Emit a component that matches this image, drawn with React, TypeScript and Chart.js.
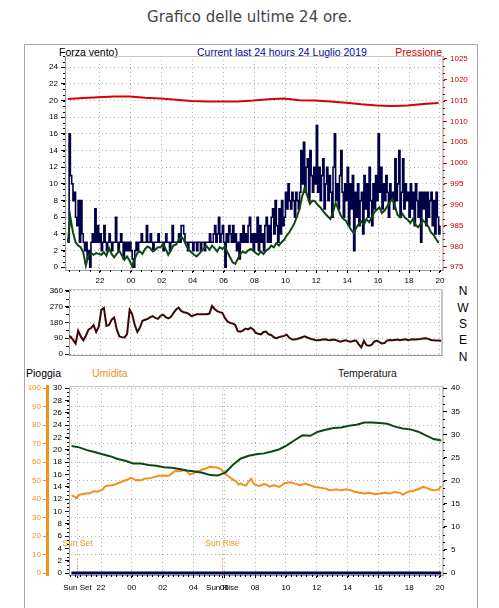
import React, { useEffect, useRef } from 'react';
import { Chart, registerables } from 'chart.js';

Chart.register(...registerables);

const FONT = "'Liberation Sans', Arial, sans-serif";
Chart.defaults.font.family = FONT;
Chart.defaults.color = '#000';

// ---- time axis: hours counted from 19:00 of the previous day (3 = 22:00, 25 = 20:00)
const hourTicks = [3, 5, 7, 9, 11, 13, 15, 17, 19, 21, 23, 25];
const hourLabels = ['22', '00', '02', '04', '06', '08', '10', '12', '14', '16', '18', '20'];
const sunSet = 1.47; // 20:28
const sunRise = 10.87; // 05:52

// ---- wind (start 19:55)
const windStart = 0.9167;
const windTicks = [0, 2, 4, 6, 8, 10, 12, 14, 16, 18, 20, 22, 24];
const pressureTicks = [975, 980, 985, 990, 995, 1000, 1005, 1010, 1015, 1020, 1025];

// gust, every 5 minutes
const windGust = [
  3, 16, 11, 10, 8, 9, 6, 5, 8, 3, 8, 4,
  3, 2, 3, 1, 2, 0, 3, 4, 3, 7, 3, 5,
  3, 4, 2, 3, 5, 3, 2, 3, 4, 3, 2, 3,
  3, 6, 3, 2, 3, 4, 3, 1, 3, 2, 3, 2,
  3, 2, 1, 0, 2, 3, 2, 3, 3, 4, 3, 3,
  3, 5, 3, 3, 4, 3, 2, 3, 3, 3, 4, 3,
  3, 3, 2, 3, 4, 3, 3, 2, 3, 5, 3, 3,
  3, 3, 4, 3, 5, 5, 4, 3, 3, 2, 3, 3,
  3, 2, 3, 3, 2, 3, 3, 2, 3, 3, 2, 3,
  3, 3, 4, 3, 3, 4, 5, 3, 4, 6, 3, 4,
  5, 3, 0, 4, 3, 5, 4, 3, 5, 3, 4, 2,
  3, 1, 4, 3, 5, 3, 4, 3, 5, 6, 3, 4,
  2, 4, 3, 6, 2, 5, 3, 4, 2, 5, 6, 3,
  5, 3, 6, 7, 4, 8, 5, 3, 7, 4, 8, 5,
  6, 9, 7, 10, 8, 7, 9, 8, 6, 9, 8, 7,
  9, 14, 10, 15, 9, 12, 13, 8, 14, 11, 9, 12,
  10, 17, 9, 12, 8, 11, 13, 7, 10, 12, 8, 11,
  9, 6, 12, 16, 8, 10, 7, 11, 14, 9, 6, 10,
  8, 12, 5, 10, 7, 11, 2, 9, 6, 10, 5, 8,
  9, 4, 11, 7, 10, 6, 12, 8, 5, 10, 7, 11,
  8, 16, 9, 12, 7, 10, 8, 11, 9, 6, 10, 8,
  9, 7, 13, 8, 10, 14, 6, 9, 13, 7, 10, 8,
  9, 6, 10, 7, 9, 5, 10, 8, 6, 9, 3, 9,
  7, 9, 5, 9, 6, 8, 9, 5, 8, 4, 9, 6,
  4, 5,
];

// average wind, every 10 minutes
const windAvg = [
  3.0, 6.0, 4.2, 3.0, 2.6, 2.4,
  1.8, 0.2, 1.4, 1.7, 1.5, 1.7,
  1.6, 1.5, 1.8, 1.4, 2.3, 1.6,
  1.2, 1.6, 2.0, 1.4, 0.9, 1.3,
  0.8, 0.1, 1.0, 1.7, 1.9, 1.6,
  2.2, 2.5, 2.3, 1.9, 2.1, 2.4,
  2.4, 2.8, 2.2, 1.5, 2.0, 2.6,
  2.7, 3.2, 3.7, 3.3, 2.6, 2.1,
  1.8, 1.5, 1.3, 1.6, 2.0, 2.3,
  2.5, 2.1, 2.6, 2.3, 1.9, 2.4,
  2.2, 2.5, 1.8, 1.2, 0.6, 0.4,
  1.0, 1.6, 1.9, 1.7, 2.0, 2.2,
  2.0, 1.7, 1.5, 1.9, 1.6, 2.0,
  2.2, 2.6, 2.4, 2.9, 2.6, 3.0,
  3.3, 3.8, 4.2, 4.7, 5.3, 6.1,
  7.0, 8.5, 9.5, 8.6, 7.6, 8.0,
  7.9, 7.5, 7.2, 6.8, 6.4, 6.1,
  5.8, 6.6, 7.7, 7.0, 6.2, 5.8,
  5.6, 5.0, 4.5, 4.1, 4.7, 5.2,
  5.5, 5.1, 5.8, 5.4, 6.0, 6.6,
  6.9, 7.2, 6.5, 6.8, 7.3, 7.8,
  8.2, 7.4, 6.3, 6.0, 6.4, 5.9,
  5.7, 5.3, 5.8, 5.1, 4.8, 5.2,
  5.6, 5.3, 4.9, 4.2, 3.9, 3.4,
  2.9,
];

// pressure (hPa), hourly
const pressure = [
  1015.4, 1015.6, 1015.8, 1016.0, 1016.0, 1015.7, 1015.5, 1015.2, 1014.9, 1014.8,
  1014.8, 1014.8, 1015.0, 1015.3, 1015.5, 1015.1, 1015.0, 1014.8, 1014.5, 1014.1,
  1013.8, 1013.7, 1013.8, 1014.2, 1014.4,
];

// wind direction (degrees), every 10 minutes
const dirTicks = [0, 90, 180, 270, 360];
const windDir = [
  100, 100, 80, 60, 132, 100, 78, 104, 138, 148,
  164, 125, 155, 250, 262, 160, 165, 195, 207, 140,
  100, 96, 94, 113, 252, 226, 165, 125, 150, 189,
  195, 200, 210, 215, 205, 200, 217, 224, 210, 203,
  210, 233, 252, 264, 245, 237, 235, 228, 215, 220,
  226, 226, 226, 226, 226, 230, 273, 256, 244, 238,
  234, 205, 185, 177, 174, 165, 130, 127, 133, 145,
  140, 150, 140, 120, 115, 112, 125, 128, 112, 108,
  95, 90, 96, 100, 103, 110, 92, 84, 82, 85,
  90, 95, 100, 94, 88, 84, 80, 78, 80, 82,
  84, 80, 78, 82, 80, 74, 70, 76, 78, 72,
  70, 75, 77, 55, 38, 75, 50, 47, 52, 70,
  76, 68, 60, 62, 76, 80, 78, 80, 82, 79,
  81, 84, 80, 81, 84, 82, 84, 85, 88, 90,
  86, 80, 78, 77, 77, 76,
];
const compass = ['N', 'W', 'S', 'E', 'N'];

// ---- rain / humidity / temperature (start 20:05)
const thStart = 1.0833;
const rainTicks = [0, 2, 4, 6, 8, 10, 12, 14, 16, 18, 20, 22, 24, 26, 28, 30];
const humTicks = [0, 10, 20, 30, 40, 50, 60, 70, 80, 90, 100];
const tempTicks = [0, 5, 10, 15, 20, 25, 30, 35, 40];

// temperature (°C), every 30 minutes
const temperature = [
  27.5, 27.2, 26.6, 26.2, 25.7, 25.3, 24.7, 24.3, 23.7, 23.7,
  23.4, 23.2, 22.9, 22.8, 22.5, 22.2, 22.0, 21.7, 21.2, 21.1,
  21.8, 23.5, 24.8, 25.4, 25.7, 25.9, 26.3, 26.8, 27.7, 28.8,
  29.8, 29.7, 30.6, 31.0, 31.4, 31.5, 31.9, 32.1, 32.6, 32.6,
  32.5, 32.3, 31.7, 31.3, 31.1, 30.6, 29.8, 29.0, 28.7,
];

// humidity (%), every 10 minutes
const humidity = [
  42.0, 41.5, 40.6, 42.3, 42.6, 42.9, 43.2, 43.0, 43.8, 44.2,
  44.0, 44.6, 45.0, 46.8, 47.2, 47.4, 47.6, 47.9, 48.6, 49.0,
  49.7, 50.2, 50.6, 51.5, 51.1, 50.2, 50.4, 50.2, 50.8, 51.2,
  51.3, 51.5, 51.9, 52.2, 52.6, 52.7, 52.8, 52.6, 52.8, 53.8,
  55.0, 55.2, 55.1, 55.3, 55.6, 55.0, 53.3, 53.8, 54.2, 55.1,
  55.4, 56.0, 56.4, 57.0, 57.5, 57.3, 57.2, 57.0, 56.4, 55.1,
  53.6, 52.4, 51.5, 50.4, 49.7, 47.9, 48.5, 47.6, 47.3, 49.5,
  51.0, 48.2, 47.6, 47.1, 47.5, 48.3, 47.8, 46.7, 47.2, 47.5,
  47.0, 46.6, 47.6, 48.7, 48.9, 49.1, 48.8, 48.4, 48.0, 47.5,
  48.0, 48.4, 47.9, 47.5, 47.0, 46.6, 46.4, 46.2, 45.9, 45.7,
  45.1, 44.8, 45.0, 45.3, 45.0, 44.8, 45.1, 45.3, 45.0, 44.7,
  44.1, 43.8, 43.5, 43.3, 43.0, 43.2, 43.4, 43.0, 42.6, 42.8,
  43.0, 43.2, 43.4, 43.2, 43.0, 43.5, 43.9, 43.6, 43.4, 42.3,
  43.2, 43.9, 44.2, 44.4, 44.9, 45.3, 46.0, 46.6, 46.2, 45.7,
  45.1, 44.8, 45.0, 45.3, 47.0,
];

// rain (mm), hourly
const rain = [0, 0, 0, 0, 0, 0, 0, 0, 0, 0, 0, 0, 0, 0, 0, 0, 0, 0, 0, 0, 0, 0, 0, 0, 0];

// ---- styles
const GRID = '#b4b4b4';
const AXIS = '#9a9a9a';
const FRAME = '#c6c6c6';
const DASH = [1, 3];
const ORANGE = '#f39019';
const RED = '#c80000';
const TICK_FONT = { size: 8, family: FONT };
const plain = (v: number) => String(v);

function pts(start: number, stepMin: number, values: number[]) {
  return values.map((v, i) => ({ x: start + (i * stepMin) / 60, y: v }));
}
const fixedTicks = (values: number[]) => (scale: any) => {
  scale.ticks = values.map((v) => ({ value: v }));
};
const fixedWidth = (w: number) => (scale: any) => {
  scale.width = w;
};
const fixedHeight = (h: number) => (scale: any) => {
  scale.height = h;
};

function framePlugin() {
  return {
    id: 'frame',
    beforeDatasetsDraw(chart: any) {
      const { left, right, top, bottom } = chart.chartArea;
      const ctx = chart.ctx;
      ctx.save();
      ctx.strokeStyle = FRAME;
      ctx.lineWidth = 1;
      ctx.beginPath();
      ctx.moveTo(left, Math.round(top) + 0.5);
      ctx.lineTo(right, Math.round(top) + 0.5);
      ctx.stroke();
      ctx.lineWidth = 2;
      ctx.beginPath();
      ctx.moveTo(Math.round(right), top);
      ctx.lineTo(Math.round(right), bottom);
      ctx.stroke();
      ctx.restore();
    },
  };
}

type Minor = { axis: string; step: number; offset?: number; len: number; color: string };
function minorTicksPlugin(specs: Minor[]) {
  return {
    id: 'minorTicks',
    afterDraw(chart: any) {
      const ctx = chart.ctx;
      for (const s of specs) {
        const sc = chart.scales[s.axis];
        const off = s.offset || 0;
        const k0 = Math.ceil((sc.min - off) / s.step - 1e-6);
        const k1 = Math.floor((sc.max - off) / s.step + 1e-6);
        ctx.save();
        ctx.strokeStyle = s.color;
        ctx.lineWidth = 1;
        ctx.beginPath();
        for (let k = k0; k <= k1; k++) {
          const p = Math.round(sc.getPixelForValue(off + k * s.step)) + 0.5;
          if (sc.position === 'left') {
            ctx.moveTo(sc.right - s.len, p);
            ctx.lineTo(sc.right, p);
          } else if (sc.position === 'right') {
            ctx.moveTo(sc.left, p);
            ctx.lineTo(sc.left + s.len, p);
          } else {
            ctx.moveTo(p, sc.top);
            ctx.lineTo(p, sc.top + s.len);
          }
        }
        ctx.stroke();
        ctx.restore();
      }
    },
  };
}

const sunPlugin = {
  id: 'sun',
  afterDatasetsDraw(chart: any) {
    const x = chart.scales.x;
    const y = chart.scales.rain;
    const ctx = chart.ctx;
    ctx.save();
    const marks: [number, string][] = [
      [sunSet, 'Sun Set'],
      [sunRise, 'Sun Rise'],
    ];
    for (const [t, label] of marks) {
      const px = Math.round(x.getPixelForValue(t)) + 0.5;
      ctx.strokeStyle = ORANGE;
      ctx.lineWidth = 1;
      ctx.setLineDash([1, 2]);
      ctx.beginPath();
      ctx.moveTo(px, y.getPixelForValue(2.3));
      ctx.lineTo(px, y.getPixelForValue(0.3));
      ctx.stroke();
      ctx.setLineDash([]);
      ctx.fillStyle = ORANGE;
      ctx.font = `8.5px ${FONT}`;
      ctx.textAlign = 'center';
      ctx.textBaseline = 'middle';
      ctx.fillText(label, px, y.getPixelForValue(4.7));
    }
    ctx.restore();
  },
};

const baseOptions = {
  responsive: false,
  animation: false as const,
  devicePixelRatio: 1,
  events: [] as any[],
  elements: { point: { radius: 0 }, line: { tension: 0 } },
  plugins: { legend: { display: false }, tooltip: { enabled: false }, title: { display: false } },
};

function topConfig(): any {
  return {
    type: 'line',
    data: {
      datasets: [
        { data: pts(windStart, 60, pressure), yAxisID: 'p', borderColor: '#d80000', borderWidth: 2 },
        { data: pts(windStart, 10, windAvg), yAxisID: 'w', borderColor: '#0f4612', borderWidth: 2 },
        { data: pts(windStart, 5, windGust), yAxisID: 'w', borderColor: '#000048', borderWidth: 1.6, stepped: true },
      ],
    },
    options: {
      ...baseOptions,
      layout: { padding: { left: 25, right: 21, top: 56, bottom: 318 } },
      scales: {
        x: {
          type: 'linear', min: 0.735, max: 25.2,
          afterBuildTicks: fixedTicks(hourTicks), afterFit: fixedHeight(20),
          ticks: {
            callback: (v: number) => hourLabels[hourTicks.indexOf(v)] ?? '',
            autoSkip: false, maxRotation: 0, minRotation: 0, font: TICK_FONT, color: '#000', padding: 3,
          },
          grid: { color: GRID, tickLength: 3, tickColor: '#000' },
          border: { color: AXIS, dash: DASH },
        },
        w: {
          type: 'linear', position: 'left', min: -0.33, max: 25.35,
          afterBuildTicks: fixedTicks(windTicks), afterFit: fixedWidth(40),
          ticks: { font: TICK_FONT, color: '#000', padding: 3, callback: plain },
          grid: { color: GRID, tickLength: 4, tickColor: '#000' },
          border: { color: AXIS, dash: DASH },
        },
        p: {
          type: 'linear', position: 'right', min: 974.34, max: 1025.7,
          afterBuildTicks: fixedTicks(pressureTicks), afterFit: fixedWidth(35),
          ticks: { font: TICK_FONT, color: RED, padding: 3, callback: plain },
          grid: { drawOnChartArea: false, tickLength: 4, tickColor: RED },
          border: { display: false },
        },
      },
    },
    plugins: [
      framePlugin(),
      minorTicksPlugin([
        { axis: 'x', step: 2 / 3, offset: 1, len: 2, color: '#000' },
        { axis: 'w', step: 2 / 3, len: 2, color: '#000' },
        { axis: 'p', step: 5 / 3, len: 2, color: RED },
      ]),
    ],
  };
}

function dirConfig(): any {
  return {
    type: 'line',
    data: {
      datasets: [{ data: pts(windStart, 10, windDir), yAxisID: 'y', borderColor: '#3a0808', borderWidth: 2 }],
    },
    options: {
      ...baseOptions,
      layout: { padding: { left: 25, right: 57, top: 289, bottom: 253 } },
      scales: {
        x: {
          type: 'linear', min: 0.99, max: 25.14,
          afterBuildTicks: fixedTicks(hourTicks), afterFit: fixedHeight(0),
          ticks: { display: false },
          grid: { color: GRID, drawTicks: false },
          border: { color: AXIS, dash: DASH },
        },
        y: {
          type: 'linear', position: 'left', min: -5.6, max: 369.6,
          afterBuildTicks: fixedTicks(dirTicks), afterFit: fixedWidth(44),
          ticks: { font: TICK_FONT, color: '#000', padding: 2, callback: plain },
          grid: { color: GRID, tickLength: 4, tickColor: '#000' },
          border: { color: AXIS, dash: DASH },
        },
      },
    },
    plugins: [framePlugin(), minorTicksPlugin([{ axis: 'y', step: 45, len: 3, color: '#000' }])],
  };
}

const bottomTicks = [sunSet, 3, 5, 7, 9, sunRise, 11, 13, 15, 17, 19, 21, 23, 25];

function bottomConfig(): any {
  return {
    type: 'line',
    data: {
      datasets: [
        { data: pts(thStart, 60, rain), yAxisID: 'rain', borderColor: '#000050', borderWidth: 3 },
        { data: pts(thStart, 30, temperature), yAxisID: 't', borderColor: '#0d4814', borderWidth: 2 },
        { data: pts(thStart, 10, humidity), yAxisID: 'h', borderColor: ORANGE, borderWidth: 2 },
      ],
    },
    options: {
      ...baseOptions,
      layout: { padding: { left: 20, right: 21, top: 386, bottom: 13 } },
      scales: {
        x: {
          type: 'linear', min: 0.923, max: 25.195,
          afterBuildTicks: fixedTicks(bottomTicks), afterFit: fixedHeight(20),
          ticks: {
            callback: (v: number) =>
              v === sunSet ? 'Sun Set' : v === sunRise ? 'Sun Rise' : hourLabels[hourTicks.indexOf(v)] ?? '',
            autoSkip: false, maxRotation: 0, minRotation: 0, font: TICK_FONT, color: '#000', padding: 5,
          },
          grid: { color: GRID, tickLength: 3, tickColor: '#000' },
          border: { color: AXIS, dash: DASH },
        },
        h: {
          type: 'linear', position: 'left', weight: 1, min: -1.08, max: 101.23,
          afterBuildTicks: fixedTicks(humTicks), afterFit: fixedWidth(27),
          ticks: { font: TICK_FONT, color: ORANGE, padding: 2, callback: plain },
          grid: { color: GRID, tickLength: 4, tickColor: ORANGE },
          border: { color: ORANGE, width: 3, dash: DASH },
        },
        rain: {
          type: 'linear', position: 'left', weight: 0, min: -0.32, max: 30.37,
          afterBuildTicks: fixedTicks(rainTicks), afterFit: fixedWidth(22),
          ticks: { font: TICK_FONT, color: '#000', padding: 3, callback: plain },
          grid: { drawOnChartArea: false, tickLength: 4, tickColor: '#000' },
          border: { color: AXIS },
        },
        t: {
          type: 'linear', position: 'right', min: -0.43, max: 40.49,
          afterBuildTicks: fixedTicks(tempTicks), afterFit: fixedWidth(35),
          ticks: { font: TICK_FONT, color: '#000', padding: 4, callback: plain },
          grid: { drawOnChartArea: false, tickLength: 4, tickColor: '#000' },
          border: { display: false },
        },
      },
    },
    plugins: [
      framePlugin(),
      sunPlugin,
      minorTicksPlugin([
        { axis: 'x', step: 1 / 3, len: 2, color: '#000' },
        { axis: 'rain', step: 2 / 3, len: 2, color: '#000' },
        { axis: 't', step: 5 / 3, len: 2, color: '#000' },
      ]),
    ],
  };
}

function Txt(props: { x: number; y: number; text: string; color: string; size: number; family?: string; anchor?: string }) {
  const { x, y, text, color, size, family = FONT, anchor = 'left' } = props;
  const transform =
    anchor === 'center' ? 'translate(-50%,-50%)' : anchor === 'right' ? 'translate(-100%,-50%)' : 'translateY(-50%)';
  return (
    <span
      style={{
        position: 'absolute', left: x, top: y, transform, fontFamily: family, fontSize: size,
        lineHeight: 1, color, whiteSpace: 'nowrap',
      }}
    >
      {text}
    </span>
  );
}

const compassY = [290.7, 307.7, 324, 340, 356.7];

export default function App() {
  const topRef = useRef<HTMLCanvasElement>(null);
  const dirRef = useRef<HTMLCanvasElement>(null);
  const botRef = useRef<HTMLCanvasElement>(null);

  useEffect(() => {
    const charts = [
      new Chart(topRef.current as HTMLCanvasElement, topConfig()),
      new Chart(dirRef.current as HTMLCanvasElement, dirConfig()),
      new Chart(botRef.current as HTMLCanvasElement, bottomConfig()),
    ];
    return () => charts.forEach((c) => c.destroy());
  }, []);

  const canvasStyle: React.CSSProperties = { position: 'absolute', left: 0, top: 0, width: 499, height: 608 };

  return (
    <div style={{ position: 'absolute', left: 0, top: 0, width: 499, height: 608, overflow: 'hidden', background: '#fff' }}>
      <div
        style={{
          position: 'absolute', left: 0, top: 10, width: 499, textAlign: 'center', fontFamily: "'DejaVu Sans', sans-serif",
          fontSize: 15, lineHeight: '15px', color: '#444',
        }}
      >
        Grafico delle ultime 24 ore.
      </div>
      <div
        style={{
          position: 'absolute', left: 24, top: 44, width: 452, height: 570, borderTop: '1px solid #a8a8a8',
          borderLeft: '1px solid #a8a8a8', borderRight: '1px solid #a8a8a8',
        }}
      />
      <Txt x={59} y={52} text="Forza vento)" color="#000" size={10.5} />
      <Txt x={197} y={52} text="Current last 24 hours 24 Luglio 2019" color="#0a0a9e" size={10.5} />
      <Txt x={442} y={52} text="Pressione" color={RED} size={10.5} anchor="right" />
      <Txt x={26} y={373} text="Pioggia" color="#000" size={10.5} />
      <Txt x={92} y={373} text="Umidita" color={ORANGE} size={10.5} />
      <Txt x={338} y={373} text="Temperatura" color="#102010" size={10.5} />
      {compass.map((c, i) => (
        <Txt key={i} x={463} y={compassY[i]} text={c} color="#000" size={12} anchor="center" />
      ))}
      <canvas ref={topRef} width={499} height={608} style={canvasStyle} />
      <canvas ref={dirRef} width={499} height={608} style={canvasStyle} />
      <canvas ref={botRef} width={499} height={608} style={canvasStyle} />
    </div>
  );
}
